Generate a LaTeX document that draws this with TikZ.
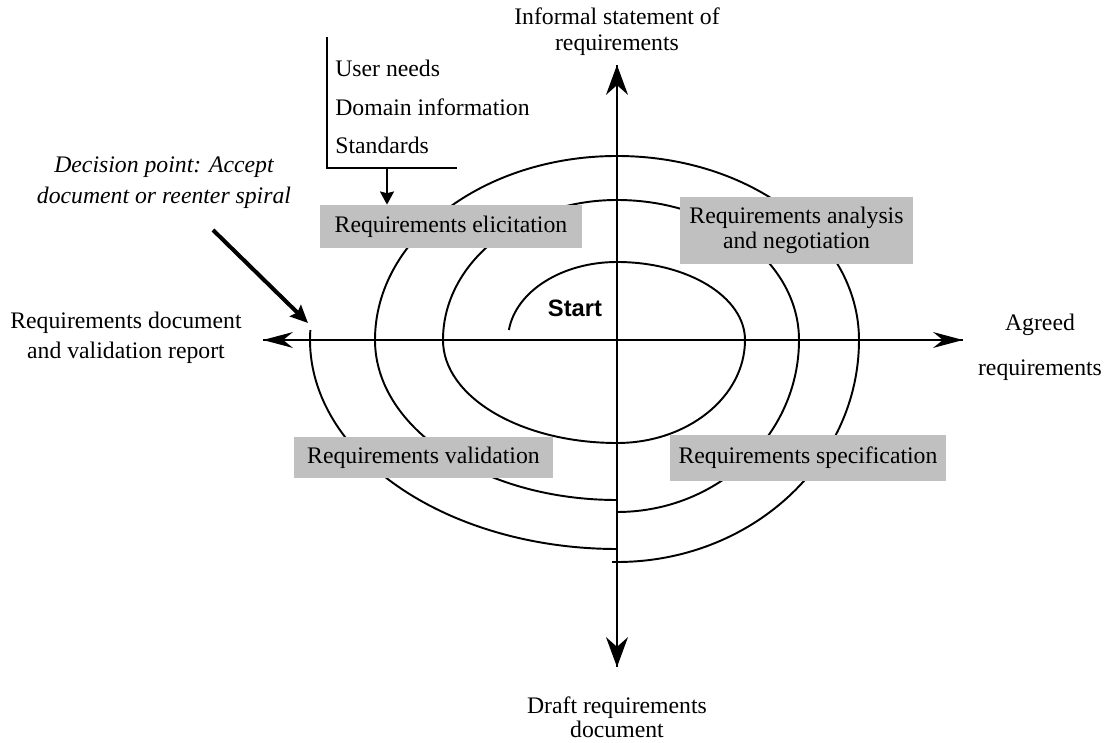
\documentclass[tikz,border=0pt]{standalone}
\usepackage{fontspec}
\setmainfont{Liberation Serif}
\newfontfamily\startfont{Liberation Sans}
\usetikzlibrary{calc}
\usetikzlibrary{arrows.meta}
\definecolor{stagegray}{RGB}{192,192,192}
\tikzset{
  stage/.style={fill=stagegray, inner sep=0pt, align=center},
  spiral/.style={black, line width=1.1pt},
  axisline/.style={black, line width=1.1pt, -{Stealth[length=17pt, width=#1]}},
  outlabel/.style={align=center, inner sep=0pt}
}

\begin{document}
\begin{tikzpicture} [x=0.02cm, y=0.02cm, font=\fontsize{13.5}{15.5}\selectfont]
\useasboundingbox (-617,-403) rectangle (488,340);

\coordinate (O) at (0,0);
\coordinate (tipN) at (0,275);
\coordinate (tipS) at (0,-327);
\coordinate (tipW) at (-354,0);
\coordinate (tipE) at (346,0);

\draw[spiral] (172.6:109 and 78) arc[start angle=172.6, end angle=90, x radius=109, y radius=78]
  arc[start angle=90, end angle=0, x radius=128, y radius=78]
  arc[start angle=0, end angle=-90, x radius=128, y radius=103]
  arc[start angle=-90, end angle=-180, x radius=174, y radius=103]
  arc[start angle=180, end angle=90, x radius=174, y radius=140]
  arc[start angle=90, end angle=0, x radius=182, y radius=140]
  arc[start angle=0, end angle=-90, x radius=182, y radius=172];
\draw[spiral] (0,-160) arc[start angle=270, end angle=180, x radius=242, y radius=160]
  arc[start angle=180, end angle=0, x radius=242, y radius=184]
  arc[start angle=0, end angle=-90, x radius=242, y radius=222] --++(-5,0);
\draw[spiral] (0,-209) arc[start angle=270, end angle=177.3, x radius=307, y radius=209];

\draw[axisline=9pt] (tipE) -- (tipW);
\draw[axisline=9pt] (tipW) -- (tipE);
\draw[axisline=12.5pt] (tipS) -- (tipN);
\draw[axisline=12.5pt] (tipN) -- (tipS);

\node[stage, minimum width=5.24cm, minimum height=0.86cm] (elicit) at (-166,113.5) {Requirements elicitation};
\node[stage, minimum width=4.66cm, minimum height=1.34cm] (analysis) at (179.5,109.5) {Requirements analysis\\[-1.5pt] and negotiation};
\node[stage, minimum width=5.18cm, minimum height=0.82cm] (validate) at (-193.5,-117.5) {Requirements validation};
\node[stage, minimum width=5.52cm, minimum height=0.92cm] (specify) at (191,-118) {Requirements specification};

\node[font=\fontsize{13.5}{15.5}\startfont\bfseries] (start) at (-42,32) {Start};

\node[outlabel] (informal) at (0,308.5) {Informal statement of\\[-1pt] requirements};
\node[outlabel] (reqdoc) at (-491,2) {Requirements document\\[1.5pt] and validation report};
\node[outlabel] (agreed) at (423,-7.5) {Agreed\\[10pt] requirements};
\node[outlabel] (draft) at (0,-377.5) {Draft requirements\\[-2pt] document};
\node[outlabel, font=\fontsize{13.5}{15.5}\selectfont\itshape] (decision) at (-453,157.5) {Decision point: Accept\\[2pt] document or reenter spiral};

\draw[black, line width=1.1pt] (-290,303) -- (-290,172) -- (-160,172);
\foreach \y/\txt [count=\i] in {272/User needs, 233/Domain information, 195/Standards}
  \node[anchor=west, inner sep=0pt] (input\i) at (-282,\y) {\txt};
\coordinate (inputs) at (-230,172);
\draw[black, line width=1.1pt, -{Stealth[length=7.5pt, width=8pt, inset=1pt]}] (inputs) -- (inputs |- elicit.north);

\coordinate (dtail) at (-404,110);
\coordinate (dhead) at (-309,17);
\draw[black, line width=2.3pt, -{Stealth[length=10pt, width=9pt, inset=1.5pt]}] (dtail) -- (dhead);

\end{tikzpicture}
\end{document}
